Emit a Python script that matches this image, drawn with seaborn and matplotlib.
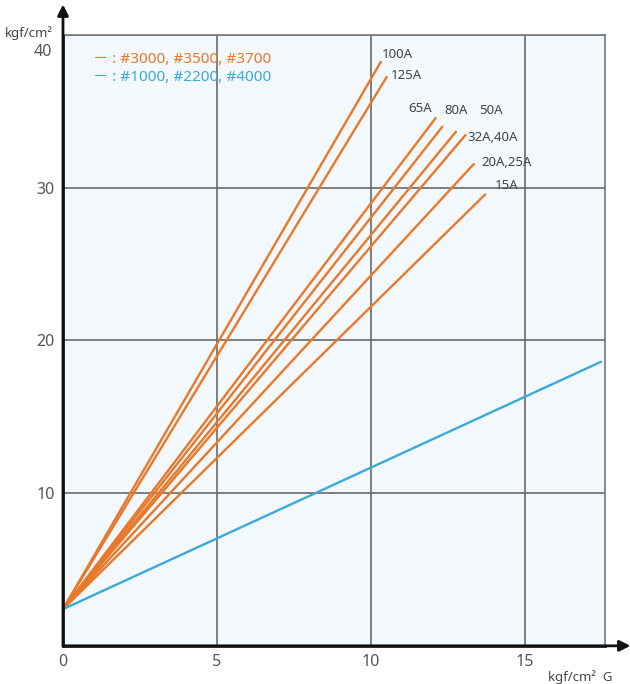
import pandas as pd
import seaborn as sns
import matplotlib.pyplot as plt

# data
sizes = ["100A", "125A", "65A", "80A", "50A", "32A,40A", "20A,25A", "15A"]
start_y = 2.4
end_x = [10.32, 10.51, 12.10, 12.32, 12.76, 13.07, 13.34, 13.71]
end_y = [38.24, 37.25, 34.56, 34.00, 33.67, 33.45, 31.55, 29.56]
label_x = [10.34, 10.64, 11.20, 12.37, 13.50, 13.12, 13.60, 14.03]
label_y = [38.74, 37.36, 35.20, 35.07, 35.07, 33.30, 31.67, 30.17]
blue_end = (17.47, 18.6)
xticks = [0, 5, 10, 15]
yticks = [10, 20, 30, 40]
legend_lines = ["－ : #3000, #3500, #3700", "－ : #1000, #2200, #4000"]

orange = "#E8782A"
blue = "#3AAAD6"

rows = []
for s, ex, ey in zip(sizes, end_x, end_y):
    rows.append({"x": 0, "y": start_y, "line": s})
    rows.append({"x": ex, "y": ey, "line": s})
rows.append({"x": 0, "y": start_y, "line": "blue"})
rows.append({"x": blue_end[0], "y": blue_end[1], "line": "blue"})
df = pd.DataFrame(rows)

pal = {s: orange for s in sizes}
pal["blue"] = blue

sns.set_theme(style="white")
plt.rcParams["font.family"] = ["Noto Sans", "Noto Sans CJK KR", "DejaVu Sans"]

fig = plt.figure(figsize=(6.3, 6.84), dpi=100)
ax = fig.add_axes([0.1, 0.0558, 0.8603, 0.8930])
ax.set_facecolor("#F2F8FC")

sns.lineplot(data=df, x="x", y="y", hue="line", palette=pal, legend=False,
             linewidth=1.7, ax=ax, sort=False)

ax.set_xlim(0, 17.6)
ax.set_ylim(0, 40)
ax.set_xticks(xticks)
ax.set_yticks(yticks)
ax.set_yticklabels(["10", "20", "30", ""])
ax.tick_params(length=0, labelsize=11.5, labelcolor="#555555", pad=6)
ax.grid(True, color="#6a6a6a", linewidth=1.2)
ax.set_axisbelow(True)
ax.set_xlabel("")
ax.set_ylabel("")

for side in ["top", "right"]:
    ax.spines[side].set_color("#777777")
    ax.spines[side].set_linewidth(1.2)
for side in ["left", "bottom"]:
    ax.spines[side].set_color("#222222")
    ax.spines[side].set_linewidth(2)

# arrows on the axes
ax.annotate("", xy=(0, 1.05), xytext=(0, 0), xycoords="axes fraction",
            arrowprops=dict(arrowstyle="-|>", color="#111111", lw=2,
                            mutation_scale=16, shrinkA=0, shrinkB=0),
            annotation_clip=False)
ax.annotate("", xy=(1.047, 0), xytext=(0, 0), xycoords="axes fraction",
            arrowprops=dict(arrowstyle="-|>", color="#111111", lw=2,
                            mutation_scale=16, shrinkA=0, shrinkB=0),
            annotation_clip=False)

ax.text(-0.02, 38.9, "40", transform=ax.get_yaxis_transform(), ha="right",
        va="center", fontsize=11.5, color="#555555")

for s, lx, ly in zip(sizes, label_x, label_y):
    ax.text(lx, ly, s, fontsize=9.5, color="#444444", ha="left", va="center")

ax.text(0.97, 38.4, legend_lines[0], color=orange, fontsize=11, va="center")
ax.text(0.97, 37.2, legend_lines[1], color=blue, fontsize=11, va="center")

fig.text(5 / 630, 1 - 33 / 684, "kgf/cm²", fontsize=9.5, color="#444444",
         ha="left", va="center")
fig.text(548 / 630, 1 - 677 / 684, "kgf/cm²  G", fontsize=9.5, color="#444444",
         ha="left", va="center")

fig.savefig("out.png", dpi=100)
